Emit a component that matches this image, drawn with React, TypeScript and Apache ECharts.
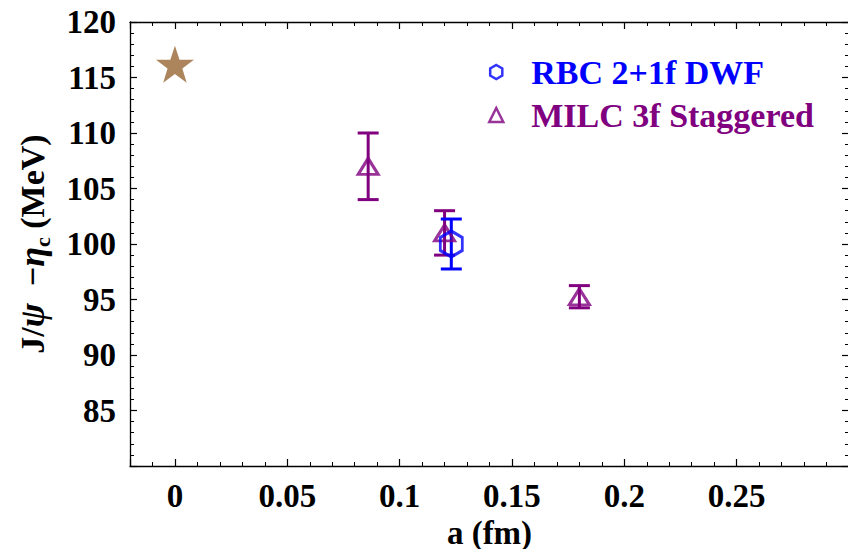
import React, { useEffect, useRef } from 'react';
import * as echarts from 'echarts';

// ---- data ----
const seriesNames = ['RBC 2+1f DWF', 'MILC 3f Staggered'];
const rbcA = [0.123];
const rbcE = [100.0];
const rbcErr = [2.25];
const milcA = [0.086, 0.12, 0.18];
const milcE = [107.0, 101.0, 95.25];
const milcErr = [3.0, 2.0, 1.0];
const expA = [0];
const expE = [116.2];

const X_MIN = -0.02;
const X_MAX = 0.3;
const X_STEP = 0.05;
const Y_MIN = 80;
const Y_MAX = 120;
const Y_STEP = 5;

const BLUE = '#0000FF';
const PURPLE = '#800080';
const BROWN = '#996633';
const FONT = '"Liberation Serif", "Times New Roman", serif';
const FS = 33;

const HEX = 'path://M0,-1L0.866,-0.5L0.866,0.5L0,1L-0.866,0.5L-0.866,-0.5Z';

function starPath(): string {
  const pts: string[] = [];
  for (let i = 0; i < 10; i++) {
    const r = i % 2 === 0 ? 1 : 0.39;
    const ang = -Math.PI / 2 + (i * Math.PI) / 5;
    pts.push(`${(r * Math.cos(ang)).toFixed(4)},${(r * Math.sin(ang)).toFixed(4)}`);
  }
  return 'path://M' + pts.join('L') + 'Z';
}

function errRender(color: string) {
  return (params: any, api: any) => {
    const x = api.value(0);
    const lo = api.coord([x, api.value(1)]);
    const hi = api.coord([x, api.value(2)]);
    const hw = 10.5;
    const style = { stroke: color, lineWidth: 3 };
    return {
      type: 'group',
      children: [
        { type: 'line', shape: { x1: lo[0], y1: lo[1], x2: hi[0], y2: hi[1] }, style },
        { type: 'line', shape: { x1: lo[0] - hw, y1: lo[1], x2: lo[0] + hw, y2: lo[1] }, style },
        { type: 'line', shape: { x1: hi[0] - hw, y1: hi[1], x2: hi[0] + hw, y2: hi[1] }, style },
      ],
    };
  };
}

const axisLineStyle = { color: '#000', width: 1.3 };

function xAxisCfg(pos: 'bottom' | 'top', labels: boolean) {
  return {
    type: 'value',
    position: pos,
    min: X_MIN,
    max: X_MAX,
    minInterval: X_STEP,
    maxInterval: X_STEP,
    splitNumber: 6,
    axisLine: { show: true, onZero: false, lineStyle: axisLineStyle },
    axisTick: { show: true, inside: true, length: 7, lineStyle: { color: '#000', width: 1.2 } },
    minorTick: { show: true, splitNumber: 5, length: 4, lineStyle: { color: '#000', width: 1 } },
    splitLine: { show: false },
    axisLabel: {
      show: labels,
      showMinLabel: false,
      showMaxLabel: false,
      margin: 13,
      color: '#000',
      fontFamily: FONT,
      fontWeight: 'bold',
      fontSize: FS,
      formatter: (v: number) => (v < -1e-9 || v > X_MAX - 1e-6 ? '' : String(parseFloat(v.toFixed(3)))),
    },
  };
}

function yAxisCfg(pos: 'left' | 'right', labels: boolean) {
  return {
    type: 'value',
    position: pos,
    min: Y_MIN,
    max: Y_MAX,
    interval: Y_STEP,
    axisLine: { show: true, onZero: false, lineStyle: axisLineStyle },
    axisTick: { show: true, inside: true, length: 7, lineStyle: { color: '#000', width: 1.2 } },
    minorTick: { show: true, splitNumber: 5, length: 4, lineStyle: { color: '#000', width: 1 } },
    splitLine: { show: false },
    axisLabel: {
      show: labels,
      margin: 14,
      color: '#000',
      fontFamily: FONT,
      fontWeight: 'bold',
      fontSize: FS,
      formatter: (v: number) => (v <= Y_MIN ? '' : String(v)),
    },
  };
}

export default function App() {
  const ref = useRef<HTMLDivElement>(null);
  useEffect(() => {
    if (!ref.current) return;
    const chart = echarts.init(ref.current, null, { renderer: 'svg' });
    const bottomX: any = xAxisCfg('bottom', true);
    bottomX.name = 'a (fm)';
    bottomX.nameLocation = 'middle';
    bottomX.nameGap = 40;
    bottomX.nameTextStyle = { color: '#000', fontFamily: FONT, fontWeight: 'bold', fontSize: FS };
    const leftY: any = yAxisCfg('left', true);
    leftY.name = '{b|J/}{i|ψ}{b|  −}{i|η}{s|c}{b| (MeV)}';
    leftY.nameLocation = 'middle';
    leftY.nameGap = 80;
    leftY.nameTextStyle = {
      color: '#000',
      fontFamily: FONT,
      fontWeight: 'bold',
      fontSize: 34,
      rich: {
        b: { fontFamily: FONT, fontWeight: 'bold', fontSize: 34, color: '#000', lineHeight: 36 },
        i: { fontFamily: FONT, fontWeight: 'bold', fontStyle: 'italic', fontSize: 36, color: '#000', lineHeight: 36 },
        s: {
          fontFamily: FONT,
          fontWeight: 'bold',
          fontSize: 22,
          color: '#000',
          lineHeight: 23,
          verticalAlign: 'top',
          padding: [17, 0, 0, 0],
        },
      },
    };

    chart.setOption({
      animation: false,
      backgroundColor: '#fff',
      grid: { left: 130, right: 7, top: 22, bottom: 91, containLabel: false },
      xAxis: [bottomX, xAxisCfg('top', false)],
      yAxis: [leftY, yAxisCfg('right', false)],
      legend: {
        orient: 'vertical',
        left: 483,
        top: 49,
        itemWidth: 14,
        itemHeight: 14,
        itemGap: 7,
        selectedMode: false,
        data: [
          { name: seriesNames[0], icon: HEX, textStyle: { color: BLUE } },
          { name: seriesNames[1], icon: 'triangle', textStyle: { color: PURPLE } },
        ],
        textStyle: { fontFamily: FONT, fontWeight: 'bold', fontSize: 34, lineHeight: 36, padding: [0, 0, 0, 23] },
        itemStyle: { borderWidth: 2.5 },
      },
      series: [
        {
          name: 'exp',
          type: 'scatter',
          symbol: starPath(),
          symbolSize: [38, 37],
          itemStyle: { color: BROWN },
          data: expA.map((a, i) => [a, expE[i]]),
        },
        {
          name: 'MILC err',
          type: 'custom',
          renderItem: errRender(PURPLE),
          encode: { x: 0, y: [1, 2] },
          data: milcA.map((a, i) => [a, milcE[i] - milcErr[i], milcE[i] + milcErr[i]]),
        },
        {
          name: seriesNames[1],
          type: 'scatter',
          symbol: 'triangle',
          symbolSize: [20, 16],
          itemStyle: { color: 'rgba(0,0,0,0)', borderColor: PURPLE, borderWidth: 3 },
          data: milcA.map((a, i) => [a, milcE[i]]),
        },
        {
          name: 'RBC err',
          type: 'custom',
          renderItem: errRender(BLUE),
          encode: { x: 0, y: [1, 2] },
          data: rbcA.map((a, i) => [a, rbcE[i] - rbcErr[i], rbcE[i] + rbcErr[i]]),
        },
        {
          name: seriesNames[0],
          type: 'scatter',
          symbol: HEX,
          symbolSize: [22, 26],
          itemStyle: { color: 'rgba(0,0,0,0)', borderColor: BLUE, borderWidth: 3 },
          data: rbcA.map((a, i) => [a, rbcE[i]]),
        },
      ],
    });
    return () => chart.dispose();
  }, []);
  return <div ref={ref} style={{ width: 856, height: 557, margin: -8 }} />;
}
